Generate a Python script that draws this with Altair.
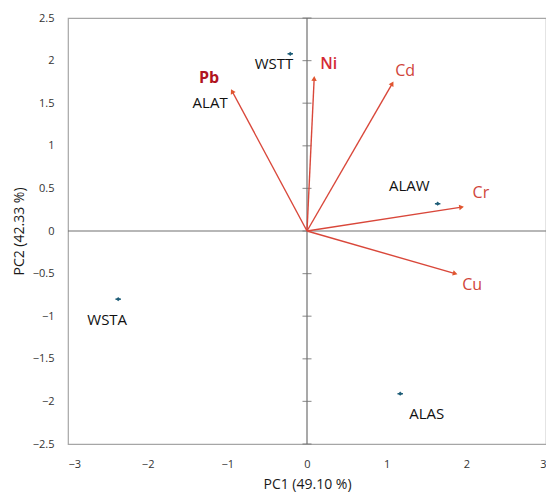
import math
import altair as alt
import pandas as pd

# Sample scores
samples = ["WSTT", "ALAT", "ALAW", "ALAS", "WSTA"]
sample_pc1 = [-0.21, -0.94, 1.64, 1.17, -2.37]
sample_pc2 = [2.08, 1.64, 0.32, -1.91, -0.80]

# Variable loadings (arrows)
variables = ["Pb", "Ni", "Cd", "Cr", "Cu"]
var_pc1 = [-0.94, 0.09, 1.07, 1.94, 1.86]
var_pc2 = [1.64, 1.79, 1.73, 0.28, -0.50]

y_ticks = [-2.5, -2, -1.5, -1, -0.5, 0, 0.5, 1, 1.5, 2, 2.5]
x_ticks = [-3, -2, -1, 0, 1, 2, 3]

W, H = 478, 426
FONT = "Open Sans"
xs = alt.Scale(domain=[-3, 3], nice=False, zero=False)
ys = alt.Scale(domain=[-2.5, 2.5], nice=False, zero=False)

xaxis = alt.Axis(values=x_ticks, format="~g", title="PC1  (49.10 %)", labelPadding=14, titlePadding=8,
                 labelFontSize=11, titleFontSize=14, labelFont=FONT, titleFont=FONT,
                 titleFontWeight="normal", labelColor="#333333", titleColor="#1a1a1a")
yaxis = alt.Axis(values=y_ticks, format="~g", title="PC2  (42.33 %)", labelPadding=14, titlePadding=6,
                 labelFontSize=11, titleFontSize=14, labelFont=FONT, titleFont=FONT,
                 titleFontWeight="normal", labelColor="#333333", titleColor="#1a1a1a")


def X(f):
    return alt.X(f, type="quantitative", scale=xs, axis=xaxis)


def Y(f):
    return alt.Y(f, type="quantitative", scale=ys, axis=yaxis)


sdf = pd.DataFrame({"name": samples, "pc1": sample_pc1, "pc2": sample_pc2})
vdf = pd.DataFrame({"name": variables, "pc1": var_pc1, "pc2": var_pc2})
vdf["ox"] = 0.0
vdf["oy"] = 0.0
px_per_x = W / 6
px_per_y = H / 5
vdf["angle"] = [
    (90 - math.degrees(math.atan2(b * px_per_y, a * px_per_x))) % 360
    for a, b in zip(var_pc1, var_pc2)
]
tdf = pd.DataFrame({"t": y_ticks, "z": [0.0] * len(y_ticks)})

zero_h = alt.Chart(pd.DataFrame({"pc2": [0.0]})).mark_rule(color="#707070", strokeWidth=1.2).encode(y=Y("pc2"))
zero_v = alt.Chart(pd.DataFrame({"pc1": [0.0]})).mark_rule(color="#707070", strokeWidth=1.2).encode(x=X("pc1"))
ticks = alt.Chart(tdf).mark_tick(orient="horizontal", color="#707070", size=9, thickness=1.2).encode(
    x=X("z"), y=Y("t"))

arrows = alt.Chart(vdf).mark_rule(color="#D9473A", strokeWidth=1.4).encode(
    x=X("ox"), y=Y("oy"), x2="pc1:Q", y2="pc2:Q")
heads = alt.Chart(vdf).mark_point(shape="triangle-up", filled=True, color="#E0552F", size=30, opacity=1).encode(
    x=X("pc1"), y=Y("pc2"), angle=alt.Angle("angle:Q", scale=None))

sp = sdf[sdf.name != "ALAT"]
pts = alt.Chart(sp).mark_point(shape="diamond", filled=True, color="#1F5E78", size=18, opacity=1).encode(
    x=X("pc1"), y=Y("pc2"))
dash = alt.Chart(sp).mark_point(shape="M-1,0L1,0", filled=False, stroke="#1F5E78",
                                strokeWidth=1.5, size=30, opacity=1).encode(x=X("pc1"), y=Y("pc2"))

# label styling: (align, dx, dy)
sample_style = {
    "WSTT": ("right", 3, 10),
    "ALAT": ("center", -22, 12),
    "ALAW": ("right", -8, -18),
    "ALAS": ("left", 9, 20),
    "WSTA": ("center", -11, 21),
}
var_style = {
    "Pb": ("center", -23, -13, "#B01420", "bold"),
    "Ni": ("left", 6, -14, "#D42A36", 600),
    "Cd": ("left", 3, -13, "#D0443A", "normal"),
    "Cr": ("left", 11, -14, "#D0443A", "normal"),
    "Cu": ("left", 7, 11, "#D0443A", "normal"),
}

layers = [zero_h, zero_v, ticks, arrows, heads, pts, dash]
for name, (al, dx, dy) in sample_style.items():
    layers.append(
        alt.Chart(sdf[sdf.name == name]).mark_text(align=al, baseline="middle", dx=dx, dy=dy,
                                                   font=FONT, fontSize=15, color="#111111").encode(
            x=X("pc1"), y=Y("pc2"), text="name:N"))
for name, (al, dx, dy, col, wt) in var_style.items():
    layers.append(
        alt.Chart(vdf[vdf.name == name]).mark_text(align=al, baseline="middle", dx=dx, dy=dy,
                                                   font=FONT, fontSize=16, color=col, fontWeight=wt).encode(
            x=X("pc1"), y=Y("pc2"), text="name:N"))

chart = alt.layer(*layers).properties(
    width=W, height=H,
    autosize=alt.AutoSizeParams(type="none"),
    padding={"left": 60, "top": 10, "right": 0, "bottom": 50},
).configure_view(stroke="#A6A6A6", strokeWidth=1.2).configure_axis(
    grid=False, domain=False, ticks=False)

chart.save("out.html", embed_options={"renderer": "svg", "actions": False})
